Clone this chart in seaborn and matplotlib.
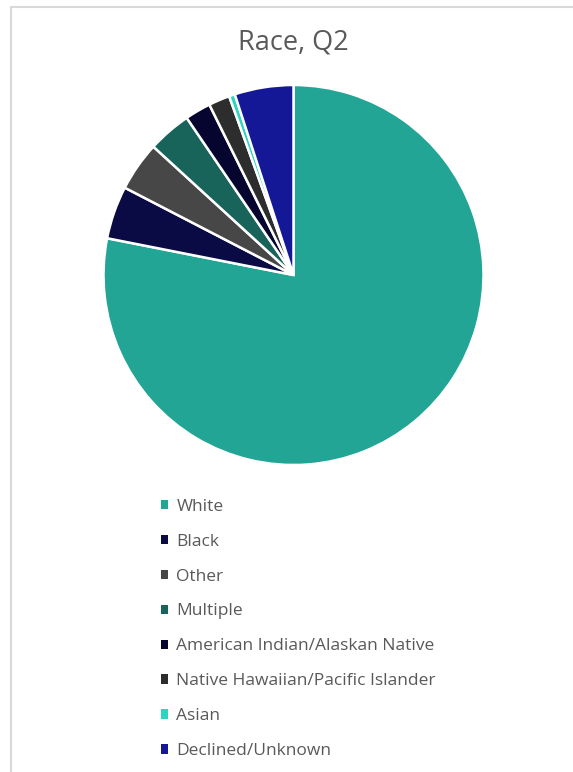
import matplotlib
matplotlib.use("Agg")
import matplotlib.pyplot as plt
import seaborn as sns
from matplotlib.patches import Rectangle

categories = ["White", "Black", "Other", "Multiple",
              "American Indian/Alaskan Native",
              "Native Hawaiian/Pacific Islander",
              "Asian", "Declined/Unknown"]
values = [78.1, 4.5, 4.2, 3.7, 2.2, 1.8, 0.5, 5.0]
colors = ["#22A595", "#0A0A45", "#474747", "#18635A",
          "#050530", "#2D2D2D", "#2ED4C0", "#141896"]
title = "Race, Q2"

sns.set_theme(style="white")
plt.rcParams['font.family'] = ['Open Sans', 'DejaVu Sans']

W, H = 573, 772
fig = plt.figure(figsize=(W / 100, H / 100), dpi=100)
fig.patch.set_facecolor("white")

# chart border (cropped at right and bottom)
fig.patches.append(Rectangle((11 / W, -0.05), 1.2, (H - 7) / H + 0.05,
                             transform=fig.transFigure, fill=False,
                             edgecolor="#D9D9D9", linewidth=1.5))

ax = fig.add_axes([103.5 / W, (H - 465) / H, 380 / W, 380 / H])
wedges, _ = ax.pie(values, colors=colors, startangle=90, counterclock=False,
                   wedgeprops=dict(edgecolor="white", linewidth=1.8))
ax.set_xlim(-1, 1)
ax.set_ylim(-1, 1)
ax.set_aspect("equal")

fig.text(293.5 / W, 1 - 42 / H, title, ha="center", va="center",
         fontsize=19.5, color="#595959")

leg = fig.legend(wedges, categories, loc="upper left",
                 bbox_to_anchor=(152 / W, 1 - 490 / H),
                 frameon=False, fontsize=12.5, labelcolor="#595959",
                 handlelength=0.45, handleheight=0.45, handletextpad=0.45,
                 labelspacing=1.09, borderpad=0)
for h in leg.legend_handles:
    h.set_edgecolor("none")

fig.savefig("out.png", dpi=100, facecolor="white")
